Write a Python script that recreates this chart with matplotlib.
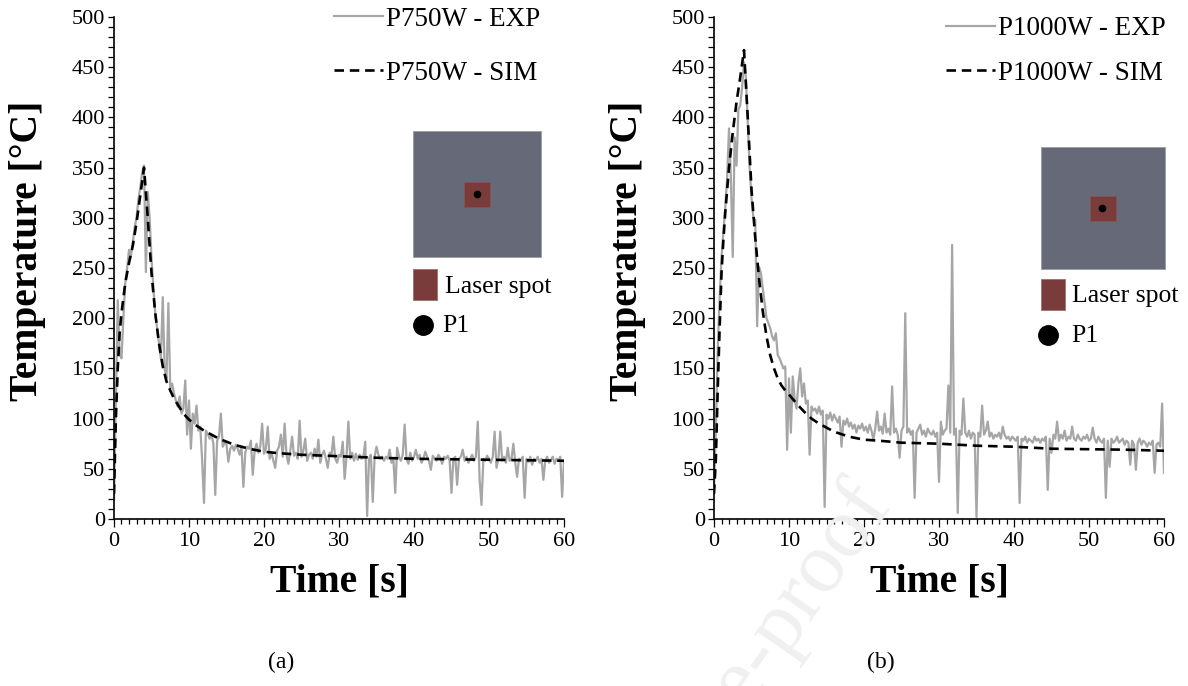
import numpy as np
import matplotlib
matplotlib.use('Agg')
import matplotlib.pyplot as plt
from matplotlib.patches import Rectangle
from matplotlib.lines import Line2D
from matplotlib.ticker import MultipleLocator

plt.rcParams['font.family'] = ['Liberation Serif', 'DejaVu Serif']

# experimental samples every 0.25 s (0 .. 60 s)
t_exp = np.arange(0, 60.01, 0.25)

exp_750 = [
    20, 120, 218, 165, 160, 200, 235, 250, 268, 262, 275, 290, 300, 318, 330, 345, 352, 246, 326, 300,
    260, 230, 205, 190, 175, 160, 221, 150, 140, 215, 130, 135, 125, 118, 112, 122, 105, 110, 138, 84,
    118, 70, 105, 95, 113, 88, 92, 59, 16, 88, 85, 80, 84, 75, 24, 78, 82, 105, 72, 76,
    74, 57, 70, 73, 68, 74, 70, 64, 72, 32, 66, 72, 70, 78, 44, 68, 75, 66, 72, 95,
    65, 70, 92, 60, 66, 58, 51, 68, 72, 84, 62, 95, 64, 55, 68, 82, 63, 66, 60, 98,
    62, 68, 80, 58, 64, 66, 60, 70, 62, 79, 56, 64, 68, 60, 51, 66, 64, 82, 60, 56,
    64, 62, 77, 40, 62, 97, 60, 66, 58, 65, 59, 64, 60, 62, 77, 3, 60, 64, 17, 62,
    72, 64, 60, 62, 58, 62, 60, 69, 56, 60, 26, 71, 62, 58, 64, 94, 60, 55, 66, 58,
    62, 69, 60, 64, 56, 60, 67, 62, 58, 49, 63, 60, 58, 64, 61, 55, 62, 60, 63, 58,
    26, 60, 62, 34, 60, 62, 69, 58, 62, 56, 60, 64, 58, 62, 97, 39, 14, 60, 58, 63,
    60, 56, 62, 87, 51, 60, 87, 58, 62, 56, 71, 58, 60, 75, 56, 42, 60, 58, 62, 21,
    60, 57, 62, 54, 60, 58, 62, 56, 60, 39, 58, 62, 56, 59, 62, 55, 60, 58, 62, 22,
    58]

exp_1000 = [
    30, 90, 170, 220, 261, 285, 310, 340, 389, 340, 261, 380, 352, 408, 412, 430, 455, 440, 395, 350,
    320, 300, 298, 192, 251, 245, 230, 215, 200, 195, 190, 182, 178, 185, 163, 160, 155, 150, 152, 69,
    140, 86, 142, 120, 110, 135, 150, 122, 135, 115, 118, 64, 112, 108, 110, 105, 112, 104, 108, 12,
    104, 100, 106, 98, 104, 100, 96, 102, 72, 98, 94, 100, 92, 96, 90, 94, 86, 93, 90, 95,
    88, 92, 86, 94, 88, 79, 90, 107, 88, 92, 85, 105, 86, 90, 84, 132, 86, 90, 84, 61,
    88, 92, 205, 86, 90, 84, 88, 21, 86, 90, 94, 84, 88, 82, 90, 86, 84, 88, 82, 86,
    37, 97, 84, 88, 90, 133, 86, 273, 84, 90, 6, 88, 84, 120, 86, 82, 88, 80, 86, 84,
    2, 86, 82, 113, 84, 88, 97, 82, 86, 80, 84, 82, 86, 80, 92, 84, 80, 82, 78, 82,
    80, 78, 82, 16, 80, 78, 82, 76, 80, 78, 76, 82, 78, 80, 76, 80, 78, 82, 29, 80,
    66, 84, 80, 97, 78, 84, 80, 88, 78, 82, 80, 92, 80, 78, 84, 80, 78, 82, 80, 84,
    78, 80, 91, 80, 76, 82, 78, 76, 80, 21, 78, 52, 80, 76, 78, 82, 76, 78, 80, 74,
    78, 76, 54, 78, 74, 49, 76, 80, 74, 78, 76, 72, 76, 74, 78, 46, 74, 76, 72, 115,
    46]

sim_t_750 = [0, 0.25, 0.5, 0.75, 1, 1.5, 2, 2.5, 3, 3.5, 4, 4.5, 5, 5.5, 6, 6.5, 7, 7.5, 8, 8.5,
             9, 9.5, 10, 11, 12, 13, 14, 15, 16, 17, 18, 19, 20, 22, 25, 30, 35, 40, 45, 50, 55, 60]
sim_750 = [25, 100, 150, 185, 205, 235, 255, 272, 295, 322, 350, 300, 245, 205, 175, 152, 137, 128, 120, 114,
           108, 103, 99, 93, 88, 84, 80, 77, 74, 72, 70, 68.5, 67, 65.5, 64, 62.5, 61, 60, 59.5, 59, 58.5, 58]

sim_t_1000 = [0, 0.25, 0.5, 0.75, 1, 1.25, 1.5, 2, 2.5, 3, 3.5, 4, 4.5, 5, 5.5, 6, 6.5, 7, 7.5, 8,
              8.5, 9, 9.5, 10, 11, 12, 13, 14, 15, 16, 18, 20, 22, 25, 30, 35, 40, 45, 50, 55, 60]
sim_1000 = [25, 60, 130, 190, 245, 278, 305, 350, 385, 415, 440, 467, 400, 328, 280, 240, 207, 182, 163, 150,
            140, 133, 128, 124, 115, 107, 100, 95, 91, 87, 82, 79, 78, 76, 75, 73, 72, 70, 69.5, 69, 68]

W, H = 1188, 686
fig = plt.figure(figsize=(W / 100, H / 100), dpi=100)


def px(x, y):
    return x / W, 1 - y / H


# faint watermark
fig.text(*px(893, 505), 'Journal Pre-proof', fontsize=62, color='#f0f0f0', rotation=55,
         rotation_mode='anchor', ha='right', va='baseline', zorder=0)

GREY = '#a6a6a6'
SLATE = '#656978'
SPOT = '#7a3b3b'
FS = 16
LFS = 19.5

panels = [
    dict(left=114, t_sim=sim_t_750, sim=sim_750, exp=exp_750, name='P750W',
         leg_anchor=(0.947, 1.02), leg_space=1.06, tag='(a)',
         box=(413, 131, 541, 257), spot=(464, 182, 490, 207), dot=(477, 194),
         lsq=(413, 269, 437, 300), ltxt=(445, 287), pdot=(423, 325), ptxt=(442, 326)),
    dict(left=714, t_sim=sim_t_1000, sim=sim_1000, exp=exp_1000, name='P1000W',
         leg_anchor=(1.003, 1.002), leg_space=0.73, tag='(b)',
         box=(1041, 147, 1165, 269), spot=(1090, 196, 1116, 221), dot=(1102, 208),
         lsq=(1041, 279, 1065, 310), ltxt=(1072, 296), pdot=(1048, 335), ptxt=(1071, 336)),
]

for p in panels:
    ax = fig.add_axes([p['left'] / W, (H - 519) / H, 450 / W, 502 / H])
    ax.plot(t_exp, p['exp'], color=GREY, lw=1.6, label=p['name'] + ' - EXP')
    ax.plot(p['t_sim'], p['sim'], color='black', lw=1.9, dashes=(3.6, 2.2),
            label=p['name'] + ' - SIM')
    ax.set_xlim(0, 60)
    ax.set_ylim(0, 500)
    ax.xaxis.set_major_locator(MultipleLocator(10))
    ax.xaxis.set_minor_locator(MultipleLocator(1))
    ax.yaxis.set_major_locator(MultipleLocator(50))
    ax.yaxis.set_minor_locator(MultipleLocator(10))
    for s in ['top', 'right']:
        ax.spines[s].set_visible(False)
    for s in ['left', 'bottom']:
        ax.spines[s].set_linewidth(1.2)
    ax.tick_params(axis='both', which='both', direction='out', width=0.9, labelsize=FS)
    ax.tick_params(axis='y', which='both', length=4.5, pad=2)
    ax.tick_params(axis='x', which='major', length=6, pad=3)
    ax.tick_params(axis='x', which='minor', length=3.8)
    ax.set_xlabel('Time [s]', fontsize=28.5, fontweight='bold')
    ax.set_ylabel('Temperature [°C]', fontsize=28.5, fontweight='bold')
    ax.xaxis.set_label_coords(0.5, -0.125)
    ax.xaxis.label.set_va('center')
    ax.yaxis.set_label_coords(-0.193, 0.534)
    ax.yaxis.label.set_va('center')
    ax.legend(loc='upper right', bbox_to_anchor=p['leg_anchor'], frameon=False, fontsize=LFS,
              handlelength=1.8, handletextpad=0.1, labelspacing=p['leg_space'],
              borderaxespad=0, borderpad=0)

    # inset sketch of the sample
    x0, y0, x1, y1 = p['box']
    fig.add_artist(Rectangle(px(x0, y1), (x1 - x0) / W, (y1 - y0) / H,
                             transform=fig.transFigure, facecolor=SLATE, edgecolor='#9a9ca6', lw=0.6))
    x0, y0, x1, y1 = p['spot']
    fig.add_artist(Rectangle(px(x0, y1), (x1 - x0) / W, (y1 - y0) / H,
                             transform=fig.transFigure, facecolor=SPOT, edgecolor='#8a5050', lw=0.6))
    fig.add_artist(Line2D([px(*p['dot'])[0]], [px(*p['dot'])[1]], marker='o', ms=4.5,
                          color='black', transform=fig.transFigure))
    x0, y0, x1, y1 = p['lsq']
    fig.add_artist(Rectangle(px(x0, y1), (x1 - x0) / W, (y1 - y0) / H,
                             transform=fig.transFigure, facecolor=SPOT, edgecolor='#a07070', lw=0.6))
    fig.text(*px(*p['ltxt']), 'Laser spot', fontsize=18.5, va='center', ha='left')
    fig.add_artist(Line2D([px(*p['pdot'])[0]], [px(*p['pdot'])[1]], marker='o', ms=14,
                          color='black', transform=fig.transFigure))
    fig.text(*px(*p['ptxt']), 'P1', fontsize=18.5, va='center', ha='left')

fig.text(*px(281, 662), '(a)', fontsize=17, ha='center', va='center')
fig.text(*px(881, 662), '(b)', fontsize=17, ha='center', va='center')

fig.savefig('out.png', dpi=100)
